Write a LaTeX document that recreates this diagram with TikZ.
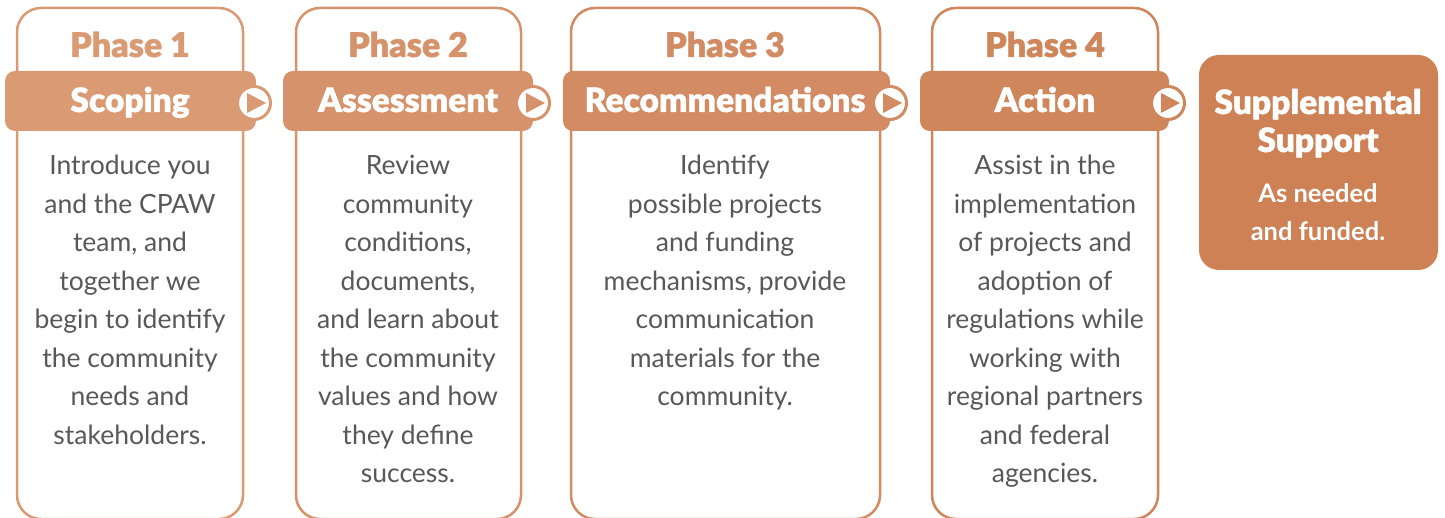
\documentclass[tikz,border=0pt]{standalone}
\usepackage{fontspec}
\setmainfont{Lato}
\newfontfamily\headfont{Lato Black}[FakeBold=1.2]
\definecolor{phaseA}{RGB}{218,155,116}
\definecolor{phaseB}{RGB}{214,146,106}
\definecolor{phaseC}{RGB}{210,139,98}
\definecolor{phaseD}{RGB}{207,134,90}
\definecolor{suppcol}{RGB}{205,129,84}
\definecolor{bodygray}{RGB}{88,88,88}
\tikzset{
  column/.style={draw=#1, line width=2.5pt, rounded corners=24pt, fill=white},
  banner/.style={fill=#1, rounded corners=10pt},
  phase title/.style={text=#1, font=\headfont\fontsize{34}{34}\selectfont, anchor=base, inner sep=0pt},
  banner title/.style={text=white, font=\headfont\fontsize{33.5}{33.5}\selectfont, anchor=base, inner sep=0pt},
  body text/.style={text=bodygray, font=\fontsize{26.5}{38.5}\selectfont, align=center, anchor=north, inner sep=0pt},
  play ring/.style={circle, fill=white, draw=#1, line width=3pt, minimum size=33pt, inner sep=0pt},
}
\begin{document}
\begin{tikzpicture}[x=1pt,y=-1pt]
  \useasboundingbox (0,0) rectangle (1445,518);
  % outlined columns
  \draw[column=phaseA] (17,8) rectangle (243,519);
  \draw[column=phaseB] (296,8) rectangle (521,519);
  \draw[column=phaseC] (571,8) rectangle (880,519);
  \draw[column=phaseD] (932,8) rectangle (1158,519);
  % banners
  \fill[banner=phaseA] (5,71) rectangle (256,131);
  \fill[banner=phaseB] (283,71) rectangle (533,131);
  \fill[banner=phaseC] (563,71) rectangle (890,131);
  \fill[banner=phaseD] (920,71) rectangle (1169,131);
  % play buttons
  \node[play ring=phaseA] (playA) at (254,103) {};
  \node[play ring=phaseB] (playB) at (533,103) {};
  \node[play ring=phaseC] (playC) at (890,103) {};
  \node[play ring=phaseD] (playD) at (1168,103) {};
  \foreach \p/\c in {playA/phaseA,playB/phaseB,playC/phaseC,playD/phaseD}
    \fill[\c] ([shift={(-7,-10)}]\p.center) -- ([shift={(-7,10)}]\p.center) -- ([shift={(12,0)}]\p.center) -- cycle;
  % headings
  \node[phase title=phaseA] (headA) at (130,57) {Phase 1};
  \node[phase title=phaseB] (headB) at (408,57) {Phase 2};
  \node[phase title=phaseC] (headC) at (725,57) {Phase 3};
  \node[phase title=phaseD] (headD) at (1045,57) {Phase 4};
  \node[banner title] (nameA) at (130,112) {Scoping};
  \node[banner title] (nameB) at (408,112) {Assessment};
  \node[banner title] (nameC) at (725,112) {Recommendations};
  \node[banner title] (nameD) at (1045,112) {Action};
  % descriptions
  \node[body text] (textA) at (130,155) {Introduce you\\and the CPAW\\team, and\\together we\\begin to identify\\the community\\needs and\\stakeholders.};
  \node[body text] (textB) at (408,155) {Review\\community\\conditions,\\documents,\\and learn about\\the community\\values and how\\they define\\success.};
  \node[body text] (textC) at (725,155) {Identify\\possible projects\\and funding\\mechanisms, provide\\communication\\materials for the\\community.};
  \node[body text] (textD) at (1045,155) {Assist in the\\implementation\\of projects and\\adoption of\\regulations while\\working with\\regional partners\\and federal\\agencies.};
  % supplemental box
  \fill[suppcol, rounded corners=20pt] (1199,55) rectangle (1438,270);
  \node[banner title] (suppHead) at (1318,114) {Supplemental};
  \node[banner title] (suppHead2) at (1318,152) {Support};
  \node[text=white, font=\bfseries\fontsize{25.5}{38}\selectfont, align=center, anchor=north, inner sep=0pt] (suppText) at (1318,183) {As needed\\and funded.};
\end{tikzpicture}
\end{document}
